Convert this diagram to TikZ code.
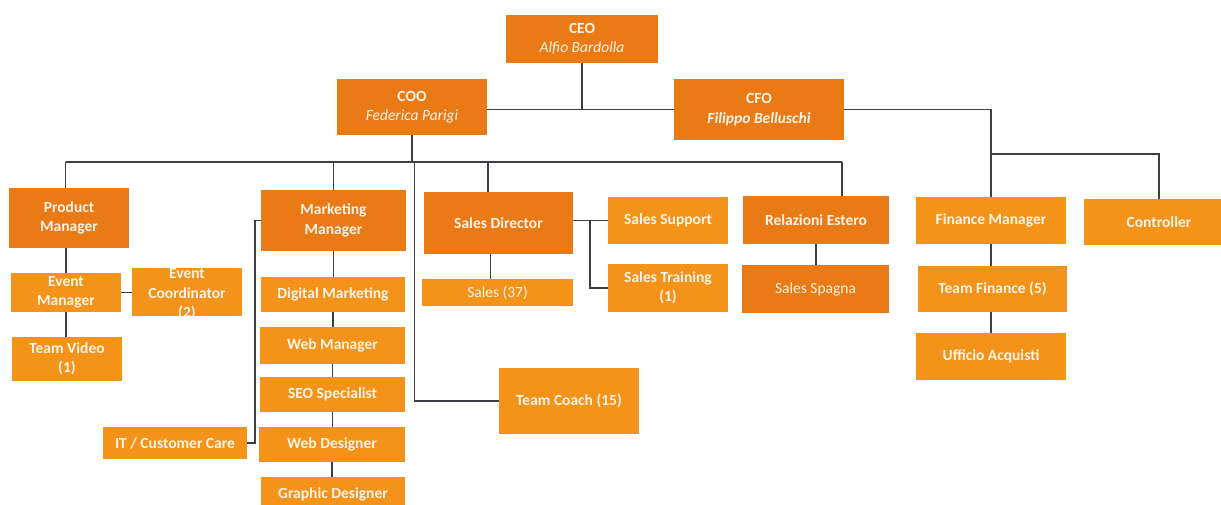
\documentclass[tikz,border=0pt]{standalone}
\usepackage{fontspec}
\setmainfont{Carlito}
\definecolor{dk}{HTML}{EA7A16}
\definecolor{lt}{HTML}{F4931A}
\definecolor{txt}{HTML}{FFF4E8}
\definecolor{ln}{HTML}{3C3F44}
\tikzset{
  box/.style={rectangle, inner sep=0pt, align=center, text=txt,
    font=\fontsize{15.5}{19.3}\selectfont\bfseries},
  dkbox/.style={box, fill=dk},
  ltbox/.style={box, fill=lt},
  conn/.style={draw=ln, line width=1.6pt},
  thickconn/.style={draw=ln, line width=2.6pt},
  sz/.style 2 args={minimum width=#1pt, minimum height=#2pt}
}
\begin{document}
\begin{tikzpicture}[x=1pt,y=-1pt]
\useasboundingbox[fill=white] (0,0) rectangle (1221,505);
% nodes
\node[dkbox, sz={152}{48}] (ceo) at (582,39) {CEO\\\mdseries\itshape Alfio Bardolla};
\node[dkbox, sz={150}{56}] (coo) at (412,107) {COO\\\mdseries\itshape Federica Parigi};
\node[dkbox, sz={170}{61}] (cfo) at (759,109.5) {CFO\\\itshape Filippo Belluschi};
\node[dkbox, sz={120}{60}] (pm) at (69,218) {Product\\Manager};
\node[ltbox, sz={110}{39}] (em) at (66,292.5) {Event\\Manager};
\node[ltbox, sz={110}{48}] (ec) at (187,292) {\raisebox{-6pt}[0pt][0pt]{\begin{tabular}[c]{@{}c@{}}Event\\Coordinator\\(2)\end{tabular}}};
\node[ltbox, sz={110}{44}] (tv) at (67,359) {Team Video\\(1)};
\node[dkbox, sz={145}{61}] (mm) at (333.5,220.5) {Marketing\\Manager};
\node[ltbox, sz={144}{35}] (dm) at (333,294.5) {Digital Marketing};
\node[ltbox, sz={145}{37}] (wm) at (332.5,345.5) {Web Manager};
\node[ltbox, sz={145}{35}] (seo) at (332.5,394.5) {SEO Specialist};
\node[ltbox, sz={146}{35}] (wd) at (332,444.5) {Web Designer};
\node[ltbox, sz={144}{35}] (gd) at (333,494.5) {Graphic Designer};
\node[ltbox, sz={144}{32}] (it) at (175,443) {IT / Customer Care};
\node[dkbox, sz={149}{62}] (sd) at (498.5,223) {Sales Director};
\node[ltbox, sz={151}{27}, font=\fontsize{15.5}{19.3}\selectfont\mdseries] (s37) at (497.5,292.5) {Sales (37)};
\node[ltbox, sz={120}{47}] (ss) at (668,220.5) {Sales Support};
\node[ltbox, sz={120}{48}] (st) at (668,288) {Sales Training\\(1)};
\node[dkbox, sz={146}{48}] (re) at (816,220) {Relazioni Estero};
\node[dkbox, sz={147}{48}, font=\fontsize{15.5}{19.3}\selectfont\mdseries] (ssp) at (815.5,289) {Sales Spagna};
\node[ltbox, sz={140}{66}] (tc) at (569,401) {Team Coach (15)};
\node[ltbox, sz={150}{47}] (fm) at (991,220.5) {Finance Manager};
\node[ltbox, sz={150}{46}] (ctrl) at (1159,222) {Controller};
\node[ltbox, sz={149}{46}] (tf) at (992.5,289) {Team Finance (5)};
\node[ltbox, sz={150}{47}] (ua) at (991,356.5) {Ufficio Acquisti};
% coordinates
\coordinate (bl) at (65.5,162);
\coordinate (br) at (842,162);
\coordinate (sdtap) at (488,162);
\coordinate (tctap) at (414.5,162);
\coordinate (fbus) at (991,154);
\coordinate (sbr) at (590,220.5);
% connectors
\draw[thickconn] (ceo.south) -- (ceo.south |- cfo.west);
\draw[conn] (coo.east |- cfo.west) -- (cfo.west);
\draw[conn] (cfo.east) -| (fm.north);
\draw[conn] (fbus) -| (ctrl.north);
\draw[conn] (coo.south) -- (coo.south |- bl);
\draw[conn] (bl) -- (br);
\draw[conn] (bl) -- (bl |- pm.north);
\draw[conn] (mm.north |- bl) -- (mm.north);
\draw[conn] (sdtap) -- (sdtap |- sd.north);
\draw[conn] (br) -- (br |- re.north);
\draw[conn] (tctap) |- (tc.west);
\draw[conn] (pm.south -| em.north) -- (em.north);
\draw[conn] (em.south) -- (em.south |- tv.north);
\draw[conn] (em.east) -- (em.east -| ec.west);
\draw[conn] (mm.south) -- (mm.south |- dm.north);
\draw[conn] (dm.south) -- (dm.south |- wm.north);
\draw[conn] (wm.south) -- (wm.south |- seo.north);
\draw[conn] (seo.south) -- (seo.south |- wd.north);
\draw[conn] (wd.south) -- (wd.south |- gd.north);
\draw[conn] (it.east) -- ++(7.5,0) |- (mm.west);
\draw[conn] (sd.east |- ss.west) -- (ss.west);
\draw[conn] (sbr) |- (st.west);
\draw[conn] ([xshift=-8pt]sd.south) -- ([xshift=-8pt]sd.south |- s37.north);
\draw[conn] (re.south) -- (re.south |- ssp.north);
\draw[conn] (fm.south) -- (fm.south |- tf.north);
\draw[conn] (ua.north |- tf.south) -- (ua.north);
\end{tikzpicture}
\end{document}
